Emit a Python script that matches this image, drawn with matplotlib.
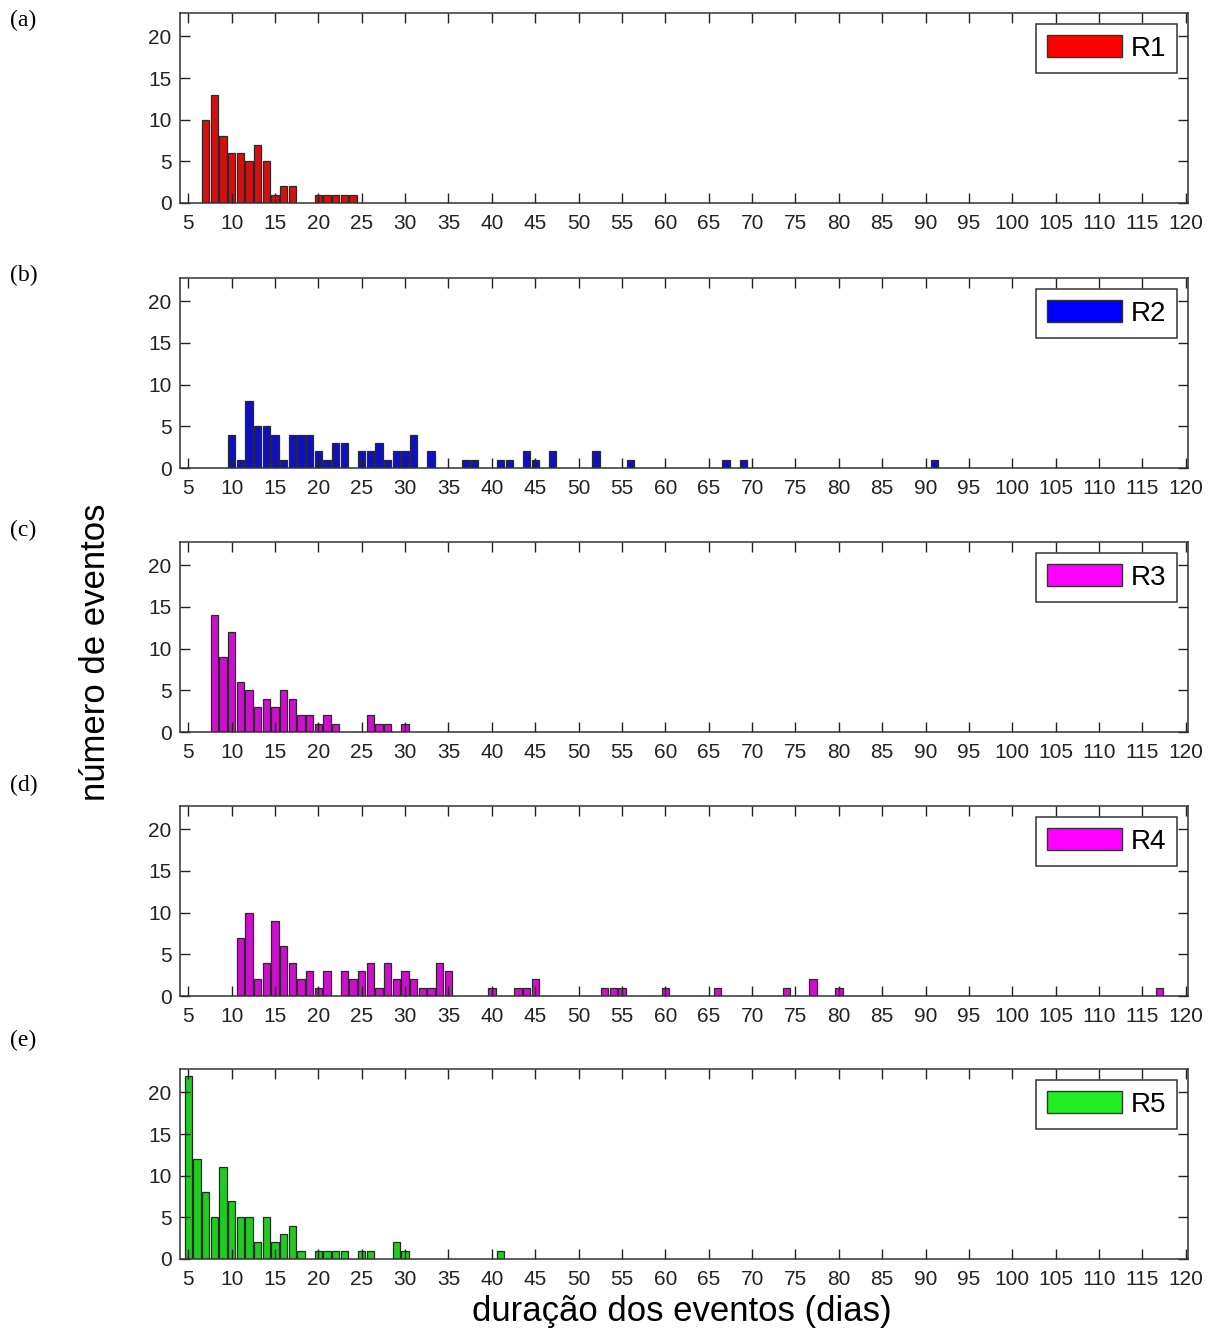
import matplotlib
matplotlib.use("Agg")
import matplotlib.pyplot as plt
from matplotlib.patches import Patch

plt.rcParams["font.family"] = ["Liberation Sans", "DejaVu Sans"]

# duração (dias) e número de eventos por região
r1_dias = [7, 8, 9, 10, 11, 12, 13, 14, 15, 16, 17, 20, 21, 22, 23, 24]
r1_num = [10, 13, 8, 6, 6, 5, 7, 5, 1, 2, 2, 1, 1, 1, 1, 1]

r2_dias = [10, 11, 12, 13, 14, 15, 16, 17, 18, 19, 20, 21, 22, 23, 25, 26, 27, 28,
           29, 30, 31, 33, 37, 38, 41, 42, 44, 45, 47, 52, 56, 67, 69, 91]
r2_num = [4, 1, 8, 5, 5, 4, 1, 4, 4, 4, 2, 1, 3, 3, 2, 2, 3, 1,
          2, 2, 4, 2, 1, 1, 1, 1, 2, 1, 2, 2, 1, 1, 1, 1]

r3_dias = [8, 9, 10, 11, 12, 13, 14, 15, 16, 17, 18, 19, 20, 21, 22, 26, 27, 28, 30]
r3_num = [14, 9, 12, 6, 5, 3, 4, 3, 5, 4, 2, 2, 1, 2, 1, 2, 1, 1, 1]

r4_dias = [11, 12, 13, 14, 15, 16, 17, 18, 19, 20, 21, 23, 24, 25, 26, 27, 28, 29,
           30, 31, 32, 33, 34, 35, 40, 43, 44, 45, 53, 54, 55, 60, 66, 74, 77, 80, 117]
r4_num = [7, 10, 2, 4, 9, 6, 4, 2, 3, 1, 3, 3, 2, 3, 4, 1, 4, 2,
          3, 2, 1, 1, 4, 3, 1, 1, 1, 2, 1, 1, 1, 1, 1, 1, 2, 1, 1]

r5_dias = [5, 6, 7, 8, 9, 10, 11, 12, 13, 14, 15, 16, 17, 18, 20, 21, 22, 23,
           25, 26, 29, 30, 41]
r5_num = [22, 12, 8, 5, 11, 7, 5, 5, 2, 5, 2, 3, 4, 1, 1, 1, 1, 1,
          1, 1, 2, 1, 1]

regioes = ["R1", "R2", "R3", "R4", "R5"]
letras = ["(a)", "(b)", "(c)", "(d)", "(e)"]
dias = [r1_dias, r2_dias, r3_dias, r4_dias, r5_dias]
nums = [r1_num, r2_num, r3_num, r4_num, r5_num]
cor_barra = ["#d41010", "#1010c0", "#cc10cc", "#cc10cc", "#20cc20"]
cor_legenda = ["#ff0000", "#0000ff", "#ff00ff", "#ff00ff", "#22ee22"]

W, H = 1218, 1335
fig = plt.figure(figsize=(W / 100, H / 100), dpi=100)

tops = [13, 278, 542, 806, 1069]
letra_y = [20, 275, 530, 785, 1040]
ax_h = 190
left, right = 180, 1188

for i in range(5):
    bottom = 1 - (tops[i] + ax_h) / H
    ax = fig.add_axes([left / W, bottom, (right - left) / W, ax_h / H])
    ax.bar(dias[i], nums[i], width=0.85, color=cor_barra[i],
           edgecolor="#2a2a2a", linewidth=0.9)
    ax.set_xlim(4.05, 120.25)
    ax.set_ylim(0, 22.8)
    ax.set_xticks(range(5, 121, 5))
    ax.set_yticks(range(0, 21, 5))
    ax.tick_params(direction="in", length=7, width=1, top=True, right=True,
                   labelsize=15, colors="#222222")
    ax.tick_params(axis="x", pad=8)
    ax.tick_params(axis="y", pad=6)
    for s in ax.spines.values():
        s.set_color("#333333")
        s.set_linewidth(1.1)
    h = Patch(facecolor=cor_legenda[i], edgecolor="#333333", linewidth=1)
    leg = ax.legend([h], [regioes[i]], loc="upper right", fontsize=20,
                    handlelength=2.7, handleheight=0.85, handletextpad=0.3,
                    borderpad=0.4, borderaxespad=0.4, fancybox=False,
                    framealpha=1)
    leg.get_frame().set_edgecolor("#333333")
    leg.get_frame().set_linewidth(1.1)
    fig.text(10 / W, 1 - letra_y[i] / H, letras[i], fontsize=17,
             family=["Liberation Serif", "DejaVu Serif"], va="center", ha="left")

fig.text(96 / W, 1 - 652 / H, "número de eventos", rotation=90, fontsize=25,
         ha="center", va="center")
fig.text(682 / W, 1 - 1312 / H, "duração dos eventos (dias)", fontsize=25,
         ha="center", va="center")

fig.savefig("out.png", dpi=100)
